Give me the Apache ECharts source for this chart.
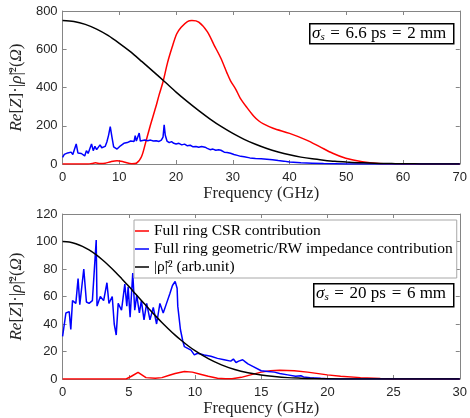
<!DOCTYPE html>
<html><head><meta charset="utf-8">
<script src="https://cdn.jsdelivr.net/npm/echarts@6/dist/echarts.min.js"></script>
<style>html,body{margin:0;padding:0;background:#fff}#c{width:470px;height:418px}</style>
</head><body><div id="c"></div>
<script>
// ---- Top panel (sigma_s = 6.6 ps) ----
const topRedF = [0,4.5,5.2,5.8,6.6,7.5,8.5,9.6,10.8,12.2,13,13.9,14.6,15.4,16.4,17.0,17.7,18.5,19.3,20.1,20.9,22,22.8,24,25.5,26.7,27.9,29,29.6,30.5,31.3,32.5,33.7,34.6,35.4,37.1,40,43,45.3,47.6,49.9,52.8,55.7,58.6,62,70];
const topRedV = [0,0,3,6,3,4,12,17,11,1,4,38,108,195,295,360,430,530,610,680,715,745,750,742,692,622,553,474,435,392,345,295,250,225,210,187,160,125,91,56,30,12,3,1,0,0];
const topBlueF = [0,0.3,0.6,0.9,1.2,1.5,1.8,2.1,2.4,2.7,3.0,3.3,3.6,3.9,4.2,4.5,4.8,5.1,5.4,5.7,6.0,6.3,6.6,6.9,7.2,7.5,7.8,8.1,8.4,8.7,9.0,9.3,9.6,9.9,10.2,10.5,10.8,11.1,11.4,11.7,12.0,12.3,12.6,12.8,13.0,13.3,13.5,13.7,14.0,14.5,15,15.5,16,16.5,17,17.4,17.7,17.9,18.1,18.4,18.8,19.2,19.6,20,20.5,21,21.5,22,22.5,23,23.5,24,24.5,24.8,25.1,25.5,26,26.5,27,27.5,27.9,28.5,29,29.6,30.2,30.8,31.4,32,33,34,35,36,37,38,39,40,42,44,46,48,50,70];
const topBlueV = [35,50,45,58,52,62,50,60,105,58,60,55,65,42,70,55,80,105,70,92,75,80,100,85,90,92,115,150,195,140,90,82,78,85,95,100,108,110,112,118,120,125,118,148,120,110,162,120,118,125,122,125,120,122,118,125,140,205,150,120,112,117,108,105,108,100,104,95,98,90,92,88,92,100,88,82,75,78,72,75,72,62,60,56,50,45,40,38,32,29,27,25,22,18,15,10,6,4,2,1,0,0];
const topBlackF = [0,2,4,6,8,10,12,14,16,18,20,22,24,26,28,30,32,34,36,38,40,42,44,46,48,50,52,54,56,58,60,62,64,66,68,70];
const topBlackV = [750,745,730,705,672,631,586,535,483,430,376,326,279,235,195,160,129,103,81,63,48,36,27,20,14,10,7,5,3,2,1,1,0,0,0,0];

// ---- Bottom panel (sigma_s = 20 ps) ----
const botRedF = [0,4.8,5.2,5.7,6.3,7,7.5,8,8.5,9.2,9.8,10.4,11,11.7,12.3,12.8,13.5,14.2,15,15.7,16.4,17.5,18.5,20,21,22.5,24,25,30];
const botRedV = [0,0,2,4.8,1,0.5,1,2.5,4,5.4,5,3.5,2,0.6,0.1,0.1,1.2,3,5,6,6.4,6,5,3,2,1,0.3,0,0];
const botBlueF = [0,0.25,0.5,0.62,0.75,1.0,1.17,1.3,1.6,1.8,2.0,2.25,2.54,2.6,2.85,3.1,3.35,3.5,3.75,3.9,4.05,4.2,4.45,4.7,4.85,4.95,5.1,5.3,5.45,5.6,5.8,5.95,6.15,6.35,6.6,6.85,7.1,7.35,7.6,7.85,8.1,8.3,8.5,8.65,8.7,8.9,9.07,9.2,9.7,9.95,10.2,10.7,11.2,11.7,12.2,12.7,12.9,13.1,13.3,13.6,13.8,14.0,14.4,15.0,15.5,16.0,16.4,17.0,17.6,18.0,18.2,18.7,19.5,20,30];
const botBlueV = [31,48,49,36,57,55,73,54,80,56,55,57,101,53,60,57,70,55,60,40,32,55,50,69,53,67,45,77,50,61,48,57,43,55,43,52,40,55,48,55,62,68,71,66,53,36,28,23.5,21,17.5,18.7,17.5,16.5,15,14,13,14.5,12,13,14,12.5,11,9,6,5.5,5,4,3,2,2.4,1.5,1,0.5,0.2,0];
const botBlackF = [0,0.5,1,1.5,2,2.5,3,3.5,4,4.5,5,5.5,6,6.5,7,7.5,8,8.5,9,9.5,10,11,12,13,14,15,16,17,18,19,20,22,30];
const botBlackV = [100,99.6,98.4,96.5,93.9,90.6,86.7,82.4,77.7,72.6,67.4,62.0,56.6,51.3,46.1,41.1,36.4,31.9,27.8,24.0,20.6,14.8,10.3,6.9,4.5,2.9,1.8,1.0,0.6,0.3,0.2,0,0];

// ---- Axes / labels ----
const topXTicks = {min:0, max:70, interval:10};
const topYTicks = {min:0, max:800, interval:200};
const botXTicks = {min:0, max:30, interval:5};
const botYTicks = {min:0, max:120, interval:20};
const seriesNames = ['Full ring CSR contribution','Full ring geometric/RW impedance contribution','|ρ̃|² (arb.unit)'];
const xTitle = 'Frequency (GHz)';
const topNote = ['σ', 's', ' \u200A=\u200A 6.6 ps \u200A=\u200A 2 mm'];
const botNote = ['σ', 's', ' \u200A=\u200A 20 ps \u200A=\u200A 6 mm'];

const zip = (f, v) => f.map((x, i) => [x, v[i]]);
const SERIF = '"Liberation Serif", "DejaVu Serif", serif';
const SANS = '"Liberation Sans", Arial, sans-serif';
const AX = '#858585';

function xAx(grid, t, pos, labels) {
  return {type:'value', gridIndex:grid, position:pos, min:t.min, max:t.max, interval:t.interval,
    axisLine:{show:true, onZero:false, lineStyle:{color:AX, width:1}},
    axisTick:{show:true, inside:true, length:4, lineStyle:{color:AX}},
    splitLine:{show:false},
    axisLabel:{show:labels, color:'#262626', fontFamily:SANS, fontSize:13, margin:7},
    name: labels ? xTitle : '', nameLocation:'middle', nameGap:20,
    nameTextStyle:{color:'#262626', fontFamily:SERIF, fontSize:16.5}};
}
function yAx(grid, t, pos, labels) {
  return {type:'value', gridIndex:grid, position:pos, min:t.min, max:t.max, interval:t.interval,
    axisLine:{show:true, onZero:false, lineStyle:{color:AX, width:1}},
    axisTick:{show:true, inside:true, length:4, lineStyle:{color:AX}},
    splitLine:{show:false},
    axisLabel:{show:labels, color:'#262626', fontFamily:SANS, fontSize:13, margin:5},
    name: labels ? '{i|Re}[{i|Z}]·|{i|ρ̃}|²({i|Ω})' : '', nameLocation:'middle', nameRotate:90, nameGap:labels ? 31 : 0,
    nameTextStyle:{color:'#262626', fontFamily:SERIF, fontSize:17,
      rich:{i:{fontStyle:'italic', fontFamily:SERIF, fontSize:17, color:'#262626'}}}};
}
function line(name, data, color, xi, yi, smooth) {
  return {type:'line', name, data, xAxisIndex:xi, yAxisIndex:yi, symbol:'none', smooth:smooth ? 0.3 : false,
    lineStyle:{color, width:1.5}, itemStyle:{color}, animation:false, z:2};
}
function note(parts, l, t, w, h) {
  return [
    {type:'rect', left:l, top:t, shape:{width:w, height:h}, style:{fill:'#fff', stroke:'#000', lineWidth:1.5}, z:10},
    {type:'text', left:l + 3, top:t + 1, z:11,
      style:{text:'{i|' + parts[0] + '}{s|' + parts[1] + '}{n|' + parts[2] + '}', fill:'#000',
        rich:{i:{fontStyle:'italic', fontSize:17, fontFamily:SERIF, lineHeight:19},
              s:{fontStyle:'italic', fontSize:11, fontFamily:SERIF, lineHeight:19, verticalAlign:'bottom', padding:[8,0,0,0]},
              n:{fontSize:17, fontFamily:SERIF, lineHeight:19}}}}
  ];
}

const chart = echarts.init(document.getElementById('c'), null, {renderer:'canvas'});
chart.setOption({
  animation:false,
  backgroundColor:'#fff',
  grid:[{left:60, top:11, width:402, height:153}, {left:60, top:214, width:402, height:165}],
  xAxis:[xAx(0, topXTicks, 'bottom', true), xAx(0, topXTicks, 'top', false), xAx(1, botXTicks, 'bottom', true), xAx(1, botXTicks, 'top', false)],
  yAxis:[yAx(0, topYTicks, 'left', true), yAx(0, topYTicks, 'right', false), yAx(1, botYTicks, 'left', true), yAx(1, botYTicks, 'right', false)],
  legend:{data:seriesNames, orient:'vertical', left:134, top:220, icon:'rect', itemWidth:14, itemHeight:1.5, itemGap:0,
    padding:[2,4,2,1], borderColor:'#a8a8a8', borderWidth:1, backgroundColor:'#fff',
    textStyle:{fontFamily:SERIF, fontSize:15.5, lineHeight:18, color:'#000'}},
  series:[
    line(seriesNames[0], zip(topRedF, topRedV), '#ff0000', 0, 0, true),
    line(seriesNames[1], zip(topBlueF, topBlueV), '#0000ff', 0, 0, false),
    line(seriesNames[2], zip(topBlackF, topBlackV), '#000000', 0, 0, true),
    line(seriesNames[0], zip(botRedF, botRedV), '#ff0000', 2, 2, false),
    line(seriesNames[1], zip(botBlueF, botBlueV), '#0000ff', 2, 2, false),
    line(seriesNames[2], zip(botBlackF, botBlackV), '#000000', 2, 2, true)
  ],
  graphic: [...note(topNote, 309, 23, 144, 20), ...note(botNote, 313, 283, 140, 23)]
});
</script></body></html>
